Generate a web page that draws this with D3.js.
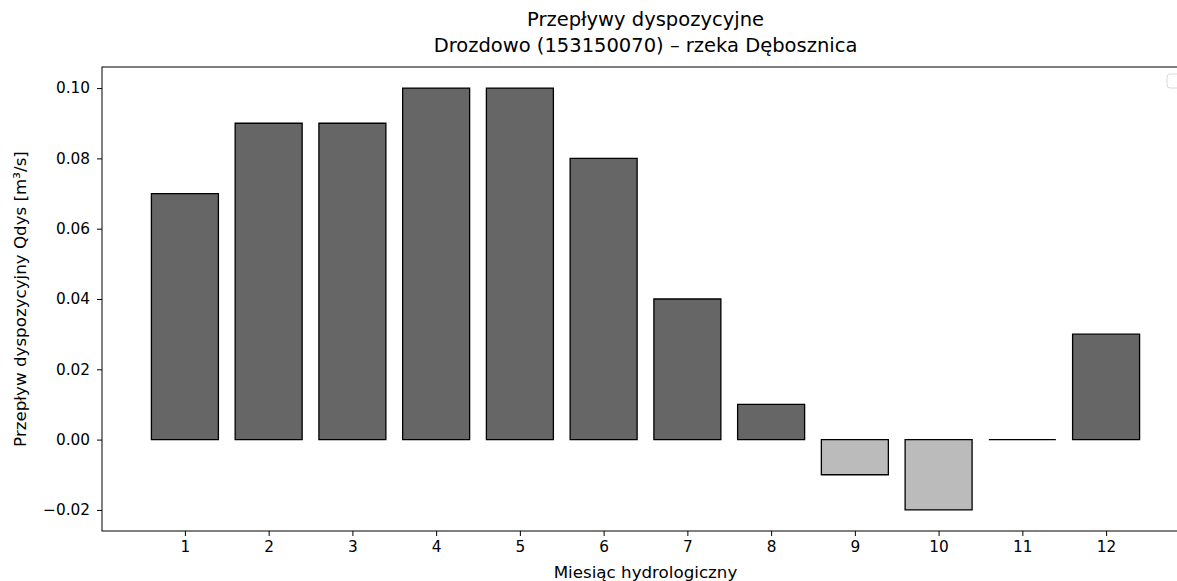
<!DOCTYPE html>
<html>
<head>
<meta charset="utf-8">
<script src="https://cdn.jsdelivr.net/npm/d3@7"></script>
<style>
  body { margin: 0; background: #fff; }
  svg { display: block; font-family: "DejaVu Sans", sans-serif; }
</style>
</head>
<body>
<svg id="chart" width="1177" height="581"></svg>
<script>
// data
const months = [1, 2, 3, 4, 5, 6, 7, 8, 9, 10, 11, 12]
const qdys = [0.07, 0.09, 0.09, 0.10, 0.10, 0.08, 0.04, 0.01, -0.01, -0.02, 0.0, 0.03]
const yTicks = [-0.02, 0.00, 0.02, 0.04, 0.06, 0.08, 0.10]
const titleLines = ['Przepływy dyspozycyjne', 'Drozdowo (153150070) – rzeka Dębosznica']

const svg = d3.select('#chart')
const plotLeft = 102
const plotRight = 1189
const plotTop = 67
const plotBottom = 531

const x = d3.scaleLinear().domain([0.01, 12.99]).range([plotLeft, plotRight])
const y = d3.scaleLinear().domain([-0.026, 0.106]).range([plotBottom, plotTop])
const barW = x(0.8) - x(0)

const g = svg.append('g')

// bars as closed paths so a zero-height bar still shows its edge
g.selectAll('.bar')
  .data(months.map((m, i) => ({ m, v: qdys[i] })))
  .enter()
  .append('path')
  .attr('class', 'bar')
  .attr('d', d => {
    const x0 = x(d.m) - barW / 2
    const x1 = x0 + barW
    const y0 = y(0)
    const y1 = y(d.v)
    return `M${x0},${y0}L${x1},${y0}L${x1},${y1}L${x0},${y1}Z`
  })
  .attr('fill', d => d.v < 0 ? '#bbbbbb' : '#666666')
  .attr('stroke', '#000')
  .attr('stroke-width', 1.3)

// axes
const xAxis = d3.axisBottom(x).tickValues(months).tickFormat(d3.format('d')).tickSize(5).tickPadding(5)
const yAxis = d3.axisLeft(y).tickValues(yTicks)
  .tickFormat(d => d3.format('.2f')(d).replace('-', '\u2212'))
  .tickSize(5).tickPadding(7)

const gx = g.append('g').attr('transform', `translate(0,${plotBottom})`).call(xAxis)
const gy = g.append('g').attr('transform', `translate(${plotLeft},0)`).call(yAxis)
;[gx, gy].forEach(a => {
  a.select('.domain').remove()
  a.selectAll('text').attr('font-size', 15.3).attr('fill', '#000').attr('font-family', '"DejaVu Sans", sans-serif')
  a.selectAll('line').attr('stroke', '#000')
})

// spines
g.append('rect')
  .attr('x', plotLeft).attr('y', plotTop)
  .attr('width', plotRight - plotLeft).attr('height', plotBottom - plotTop)
  .attr('fill', 'none').attr('stroke', '#000').attr('stroke-width', 1)

// empty legend
g.append('rect')
  .attr('x', 1167).attr('y', 74).attr('width', 18).attr('height', 14)
  .attr('rx', 3).attr('fill', '#fff').attr('stroke', '#d9d9d9')

// title
titleLines.forEach((t, i) => {
  svg.append('text')
    .attr('x', (plotLeft + plotRight) / 2).attr('y', 26 + i * 26)
    .attr('text-anchor', 'middle').attr('font-size', 19.5)
    .text(t)
})

// axis labels
svg.append('text')
  .attr('x', (plotLeft + plotRight) / 2).attr('y', 578)
  .attr('text-anchor', 'middle').attr('font-size', 16.7)
  .text('Miesiąc hydrologiczny')

svg.append('text')
  .attr('transform', `translate(26,${(plotTop + plotBottom) / 2}) rotate(-90)`)
  .attr('text-anchor', 'middle').attr('font-size', 16.7)
  .text('Przepływ dyspozycyjny Qdys [m³/s]')
</script>
</body>
</html>
